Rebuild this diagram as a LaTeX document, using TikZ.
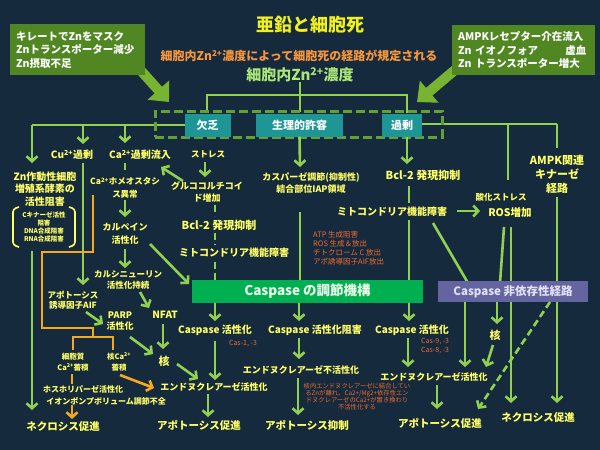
\documentclass[tikz,border=0pt]{standalone}
\usepackage{fontspec}
\setmainfont{Noto Sans CJK JP}
\usetikzlibrary{arrows.meta}
\definecolor{bg}{RGB}{22,42,62}
\definecolor{lg}{RGB}{146,208,80}
\definecolor{yt}{RGB}{255,255,102}
\definecolor{og}{RGB}{245,170,30}
\definecolor{rt}{RGB}{240,105,45}
\definecolor{boxg}{RGB}{80,135,35}
\definecolor{teal2}{RGB}{30,150,150}
\definecolor{cg}{RGB}{0,176,80}
\definecolor{pur}{RGB}{100,100,160}
\definecolor{dg}{RGB}{100,160,50}
\definecolor{barrow}{RGB}{120,180,50}
\definecolor{zng}{RGB}{170,230,120}
\definecolor{subo}{RGB}{245,150,60}
\tikzset{
  lbl/.style n args={2}{text=yt,inner sep=0pt,align=center,font=\bfseries\fontsize{#1}{#2}\selectfont},
  red/.style n args={2}{text=rt,inner sep=0pt,align=left,font=\fontsize{#1}{#2}\selectfont},
  gl/.style={draw=lg,line width=2.6pt},
  arr/.style={gl,-{Straight Barb[length=5pt,width=11pt]}},
  ol/.style={draw=og,line width=2.6pt},
  oarr/.style={ol,-{Straight Barb[length=5pt,width=11pt]}},
  gdash/.style={gl,dash pattern=on 7pt off 4pt},
  tbox/.style={fill=teal2,text=white,inner sep=0pt,font=\bfseries\fontsize{11}{13}\selectfont,minimum height=23pt},
  bigarr/.style={draw=barrow,line width=10pt,-{Triangle[length=16pt,width=28pt]}},
  topbox/.style={fill=boxg,text=white,anchor=north west,inner xsep=6pt,inner ysep=0pt,align=left,font=\bfseries\fontsize{10.5}{13.5}\selectfont}
}
\begin{document}
\begin{tikzpicture}[x=1pt,y=-1pt]
\fill[bg] (0,0) rectangle (600,450);
\path[use as bounding box] (0,0) rectangle (600,450);

% titles
\node[lbl={18}{20}, text={rgb,255:red,240;green,240;blue,30}] (title) at (310,25) {亜鉛と細胞死};
\node[lbl={12}{14}, text=subo] (sub) at (299,56) {細胞内Zn\textsuperscript{2+}濃度によって細胞死の経路が規定される};
\node[lbl={15}{17}, text=zng] (zn) at (300,75) {細胞内Zn\textsuperscript{2+}濃度};

% big green arrows (drawn before boxes)
\coordinate (la0) at (135,64); \coordinate (la1) at (169,102);
\coordinate (ra0) at (462,64); \coordinate (ra1) at (417,102);
\draw[bigarr] (la0) -- (la1);
\draw[bigarr] (ra0) -- (ra1);

% top boxes
\node[topbox, minimum width=135pt, minimum height=51pt, text width=123pt] (tl) at (10,24)
  {キレートでZnをマスク\\Znトランスポーター減少\\Zn摂取不足};
\node[topbox, minimum width=143pt, minimum height=50pt, text width=131pt] (tr) at (452,25)
  {AMPKレセプター介在流入\\Zn イオノフォア\hspace{2.6em}虚血\\Zn トランスポーター増大};

% bracket from Zn concentration
\coordinate (b1) at (207,95); \coordinate (b2) at (407,95); \coordinate (b0) at (300,95);
\draw[gl] (zn.south) -- (300,112);
\draw[gl] (207,113) -- (b1) -- (b2) -- (407,113);

% horizontal distribution lines
\coordinate (hl) at (32,125); \coordinate (hcu) at (83,125); \coordinate (hca) at (125,125);
\coordinate (hr1) at (508,124); \coordinate (hr2) at (557,124);
\draw[gl] (hl) -- (185,125);
\draw[gl] (422,124) -- (hr2);
\draw[gl] (hr1) -- (508,180);
\draw[gl] (hr2) -- (557,148);

% dashed box and teal boxes
\node[draw=dg, line width=3pt, dash pattern=on 9pt off 4pt, minimum width=287pt, minimum height=26pt, inner sep=0pt] (db) at (298.5,124) {};
\node[tbox, minimum width=46pt] (def) at (207.5,125) {欠乏};
\node[tbox, minimum width=87pt] (phy) at (299.5,125) {生理的許容};
\node[tbox, minimum width=40pt] (exc) at (402,125) {過剰};

% ---------- left part labels ----------
\node[lbl={10}{12.5}] (znact) at (45,189) {Zn作動性細胞\\増殖系酵素の\\活性阻害};
\node[lbl={6.5}{8}] (inner) at (44,227) {Cキナーゼ活性\\阻害\\DNA合成阻害\\RNA合成阻害};
\draw[yt, line width=1.6pt, rounded corners=3pt] (19,207) -- (13,209) -- (13,245) -- (19,247);
\draw[yt, line width=1.6pt, rounded corners=3pt] (69,207) -- (75,209) -- (75,245) -- (69,247);
\node[lbl={10}{12}] (cu) at (72,155) {Cu\textsuperscript{2+}過剰};
\node[lbl={10}{12}] (caex) at (140,155) {Ca\textsuperscript{2+}過剰流入};
\node[lbl={8.5}{10}] (stress) at (208,154) {ストレス};
\node[lbl={8.5}{12.5}] (cahomeo) at (125,188) {Ca\textsuperscript{2+}ホメオスタシ\\ス異常};
\node[lbl={9}{11.5}] (gluco) at (207,192) {グルココルチコイ\\ド増加};
\node[lbl={9}{13}] (calpain) at (125,234) {カルペイン\\活性化};
\node[lbl={8.5}{11}] (calcin) at (128,280) {カルシニューリン\\活性化持続};
\node[lbl={8.5}{10.5}] (aif) at (73,300) {アポトーシス\\誘導因子AIF};
\node[lbl={9}{11}] (parp) at (120,321) {PARP\\活性化};
\node[lbl={10}{12}] (nfat) at (165,315) {NFAT};
\node[lbl={11}{13}] (kaku1) at (164,361) {核};
\node[lbl={7.5}{10.5}] (cyto) at (73,362) {細胞質\\Ca\textsuperscript{2+}蓄積};
\node[lbl={7.5}{10.5}] (nucca) at (119,362) {核Ca\textsuperscript{2+}\\蓄積};
\node[lbl={8}{12}, align=left, anchor=west] (phos) at (43,395) {ホスホリパーゼ活性化\\\hspace{0.4em}イオンポンプボリューム調節不全};
\node[lbl={10.5}{12}] (necL) at (63,427) {ネクロシス促進};

% ---------- center labels ----------
\node[lbl={11}{13}] (bcl2a) at (219,225) {Bcl-2 発現抑制};
\node[lbl={10}{12}] (mito1) at (234,253) {ミトコンドリア機能障害};
\node[lbl={9}{11.5}] (ips) at (311,183) {カスパーゼ調節(抑制性)\\結合部位IAP領域};
\node[red={7.5}{8.8}, anchor=west] (redmid) at (313,248) {ATP 生成阻害\\ROS 生成＆放出\\チトクローム C 放出\\アポ誘導因子AIF放出};

% ---------- right labels ----------
\node[lbl={11}{13}] (bcl2b) at (423,175) {Bcl-2 発現抑制};
\node[lbl={10}{12}] (mito2) at (392,212) {ミトコンドリア機能障害};
\node[lbl={8.5}{10}] (oxs) at (501,197) {酸化ストレス};
\node[lbl={10.5}{12}] (ros) at (510,212) {ROS増加};
\node[lbl={11}{14}] (ampk) at (557,174) {AMPK関連\\キナーゼ\\経路};

% ---------- connectors (behind boxes) ----------
\draw[arr] (hl) -- (32,163);
\draw[arr] (hcu) -- (83,144);
\draw[arr] (hca) -- (125,143);
\coordinate (cu1) at (83,163); \coordinate (cu2) at (83,285);
\draw[arr] (cu1) -- (cu2);
\coordinate (zn1) at (32,251); \coordinate (zn2) at (32,410);
\draw[arr] (zn1) -- (zn2);
\draw[gdash] (125,163) -- (125,174);
\draw[arr] (125,200) -- (125,217);
\draw[arr] (125,249) -- (125,268);
\draw[arr] (140,292) -- (149,308);
\draw[arr] (163,324) -- (163,349);
\draw[arr] (177,364) -- (198,379);
\draw[arr] (86,312) -- (103,324);
\draw[arr] (130,337) -- (153,354);
\draw[arr] (150,244) -- (189,284);
\draw[arr] (205,162) -- (205,177);
\draw[arr] (183,181) -- (161,167);
\draw[gdash] (215,205) -- (215,216);
\draw[gdash] (215,233) -- (215,245);
\draw[gdash] (215,262) -- (215,281);
\draw[arr] (phy.south) -- (300,167);
\draw[gl] (300,212) -- (300,281);
\draw[arr] (407,137) -- (407,164);
\draw[gl] (409,186) -- (409,203);
\draw[gl] (409,220) -- (409,281);
\draw[arr] (457,211) -- (480,211);
\draw[gl] (433,223) -- (468,283);
\draw[arr] (557,197) -- (557,403);
\draw[gl] (504,227) -- (500,283);
\draw[arr] (511,227) -- (511,403);

% orange connectors
\draw[ol] (93,195) -- (93,252) -- (42,252) -- (42,328) -- (93,328) -- (93,337);
\draw[ol] (73,350) -- (73,337) -- (113,337) -- (113,350);
\draw[ol] (72,374) -- (72,384);
\draw[oarr] (72,405) -- (72,419);
\draw[oarr] (120,375) -- (154,388);

% ---------- boxes ----------
\node[fill=cg, text={rgb,255:red,235;green,255;blue,235}, minimum width=231pt, minimum height=23pt, inner sep=0pt, font=\bfseries\fontsize{13.5}{15}\selectfont] (cbox) at (307.5,291.5) {Caspase の調節機構};
\node[fill=pur, text={rgb,255:red,225;green,225;blue,245}, minimum width=150pt, minimum height=21pt, inner sep=0pt, font=\bfseries\fontsize{11.5}{13}\selectfont] (nbox) at (513,291.5) {Caspase 非依存性経路};

% ---------- below boxes ----------
\node[lbl={10}{12}] (casp1) at (215,330) {Caspase 活性化};
\node[red={7}{8}] (cas13) at (243,344) {Cas-1, -3};
\node[lbl={10}{12}] (casp2) at (315,330) {Caspase 活性化阻害};
\node[lbl={10}{12}] (casp3) at (412,330) {Caspase 活性化};
\node[red={7}{8.5}, anchor=west] (cas98) at (421,346) {Cas-9, -3\\Cas-8, -3};
\node[lbl={11}{13}] (kaku2) at (495,335) {核};
\node[lbl={9}{11}] (endo1) at (214,387) {エンドヌクレアーゼ活性化};
\node[lbl={9}{11}] (endo2) at (301,370) {エンドヌクレアーゼ不活性化};
\node[lbl={9}{11}] (endo3) at (434,377) {エンドヌクレアーゼ活性化};
\node[red={6.3}{7}, align=center] (redbot) at (357,397) {核内エンドヌクレアーゼに結合してい\\るZnが離れ、Ca2+/Mg2+依存性エン\\ドヌクレアーゼのCa2+が置き換わり\\不活性化する};
\node[lbl={10.5}{12}] (apo1) at (199,425) {アポトーシス促進};
\node[lbl={10.5}{12}] (apo2) at (307,425) {アポトーシス抑制};
\node[lbl={10.5}{12}] (apo3) at (440,423) {アポトーシス促進};
\node[lbl={10.5}{12}] (necR) at (538,418) {ネクロシス促進};

\draw[arr] (215,303) -- (215,321);
\draw[arr] (215,341) -- (215,380);
\draw[arr] (208,394) -- (208,417);
\draw[arr] (299,303) -- (299,321);
\draw[arr] (299,338) -- (299,359);
\draw[arr] (298,378) -- (298,415);
\draw[arr] (409,303) -- (409,321);
\draw[arr] (408,338) -- (408,367);
\draw[arr] (437,385) -- (437,409);
\draw[arr] (465,302) -- (465,367);
\draw[arr] (497,302) -- (497,324);
\draw[arr] (493,345) -- (486,367);
\draw[arr, dash pattern=on 7pt off 4pt] (550,302) -- (478,409);
\end{tikzpicture}
\end{document}
